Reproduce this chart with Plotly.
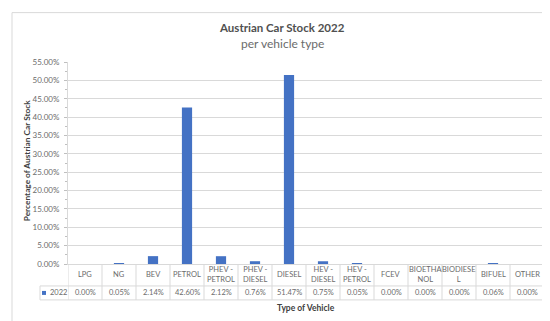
import plotly.graph_objects as go

categories = ["LPG", "NG", "BEV", "PETROL", "PHEV - PETROL", "PHEV - DIESEL", "DIESEL",
              "HEV - DIESEL", "HEV - PETROL", "FCEV", "BIOETHANOL", "BIODIESEL", "BIFUEL", "OTHER"]
header_labels = ["LPG", "NG", "BEV", "PETROL", "PHEV -<br>PETROL", "PHEV -<br>DIESEL", "DIESEL",
                 "HEV -<br>DIESEL", "HEV -<br>PETROL", "FCEV", "BIOETHA<br>NOL", "BIODIESE<br>L", "BIFUEL", "OTHER"]
values_pct = [0.00, 0.05, 2.14, 42.60, 2.12, 0.76, 51.47, 0.75, 0.05, 0.00, 0.00, 0.00, 0.06, 0.00]
series_name = "2022"
y_ticks = [i * 0.05 for i in range(12)]

W, H = 550, 321
L, R, T, B = 60, 536, 53.5, 256
PW, PH = R - L, B - T

def px(x):
    return (x - L) / PW

def py(y):
    return (B - y) / PH

FONT = "Lato"
GRAY = "#6b6b6b"
TITLE = "#505050"
LINE = "#d9d9d9"
BLUE = "#4472C4"

fig = go.Figure()
fig.add_trace(go.Bar(
    x=categories, y=[v / 100 for v in values_pct], name=series_name,
    marker=dict(color=BLUE, line=dict(width=0)), width=0.3, showlegend=False,
))

shapes = []
annotations = []

# outer border
shapes.append(dict(type="rect", xref="paper", yref="paper", x0=px(4), x1=px(545), y0=py(316), y1=py(4),
                   line=dict(color=LINE, width=1), layer="below"))

# table lines
n = len(categories)
row1, row2 = 278, 292
for i in range(n + 1):
    shapes.append(dict(type="line", xref="x", yref="paper", x0=i - 0.5, x1=i - 0.5,
                       y0=py(B), y1=py(row2), line=dict(color=LINE, width=1)))
for yy in (row1, row2):
    shapes.append(dict(type="line", xref="paper", yref="paper", x0=px(32), x1=1,
                       y0=py(yy), y1=py(yy), line=dict(color=LINE, width=1)))
shapes.append(dict(type="line", xref="paper", yref="paper", x0=px(32), x1=px(32),
                   y0=py(row1), y1=py(row2), line=dict(color=LINE, width=1)))
# legend key
shapes.append(dict(type="rect", xref="paper", yref="paper", x0=px(34), x1=px(38),
                   y0=py(287), y1=py(283), fillcolor=BLUE, line=dict(width=0)))
annotations.append(dict(text=series_name, xref="paper", yref="paper", x=px(39.5), y=py(285),
                        xanchor="left", yanchor="middle", showarrow=False,
                        font=dict(family=FONT, size=7.5, color=GRAY)))

for c, hl, v in zip(categories, header_labels, values_pct):
    annotations.append(dict(text=hl, xref="x", yref="paper", x=c, y=py(267),
                            xanchor="center", yanchor="middle", showarrow=False,
                            font=dict(family=FONT, size=7.5, color=GRAY)))
    annotations.append(dict(text=f"{v:.2f}%", xref="x", yref="paper", x=c, y=py(285),
                            xanchor="center", yanchor="middle", showarrow=False,
                            font=dict(family=FONT, size=7.5, color=GRAY)))

# titles
annotations.append(dict(text="<b>Austrian Car Stock 2022</b>", xref="paper", yref="paper",
                        x=px(274), y=py(19), xanchor="center", yanchor="middle", showarrow=False,
                        font=dict(family=FONT, size=11.5, color=TITLE)))
annotations.append(dict(text="per vehicle type", xref="paper", yref="paper",
                        x=px(274), y=py(34.5), xanchor="center", yanchor="middle", showarrow=False,
                        font=dict(family=FONT, size=12, color=GRAY)))
annotations.append(dict(text="<b>Type of Vehicle</b>", xref="paper", yref="paper",
                        x=px(298), y=py(300), xanchor="center", yanchor="middle", showarrow=False,
                        font=dict(family=FONT, size=8.5, color="#404040")))
annotations.append(dict(text="<b>Percentage of Austrian Car Stock</b>", xref="paper", yref="paper",
                        x=px(19), y=py(152), xanchor="center", yanchor="middle", showarrow=False,
                        textangle=-90, font=dict(family=FONT, size=8.3, color="#404040")))

fig.update_layout(
    width=W, height=H,
    margin=dict(l=L, r=W - R, t=T, b=H - B, pad=0),
    paper_bgcolor="white", plot_bgcolor="white",
    shapes=shapes, annotations=annotations,
    bargap=0.7,
    xaxis=dict(type="category", showticklabels=False, showgrid=False, zeroline=False,
               showline=True, linecolor=LINE, linewidth=1, ticks="", range=[-0.5, n - 0.5]),
    yaxis=dict(range=[0, 0.55], tickvals=y_ticks, tickformat=".2%", showgrid=True,
               gridcolor=LINE, gridwidth=1, zeroline=False, showline=True, linecolor=LINE,
               ticks="outside", ticklen=3, tickcolor="#bfbfbf", ticklabelstandoff=3,
               minor=dict(dtick=0.025, ticks="outside", ticklen=2, tickcolor="#bfbfbf", showgrid=False),
               tickfont=dict(family=FONT, size=8, color=GRAY)),
)

fig.write_html("out.html")
